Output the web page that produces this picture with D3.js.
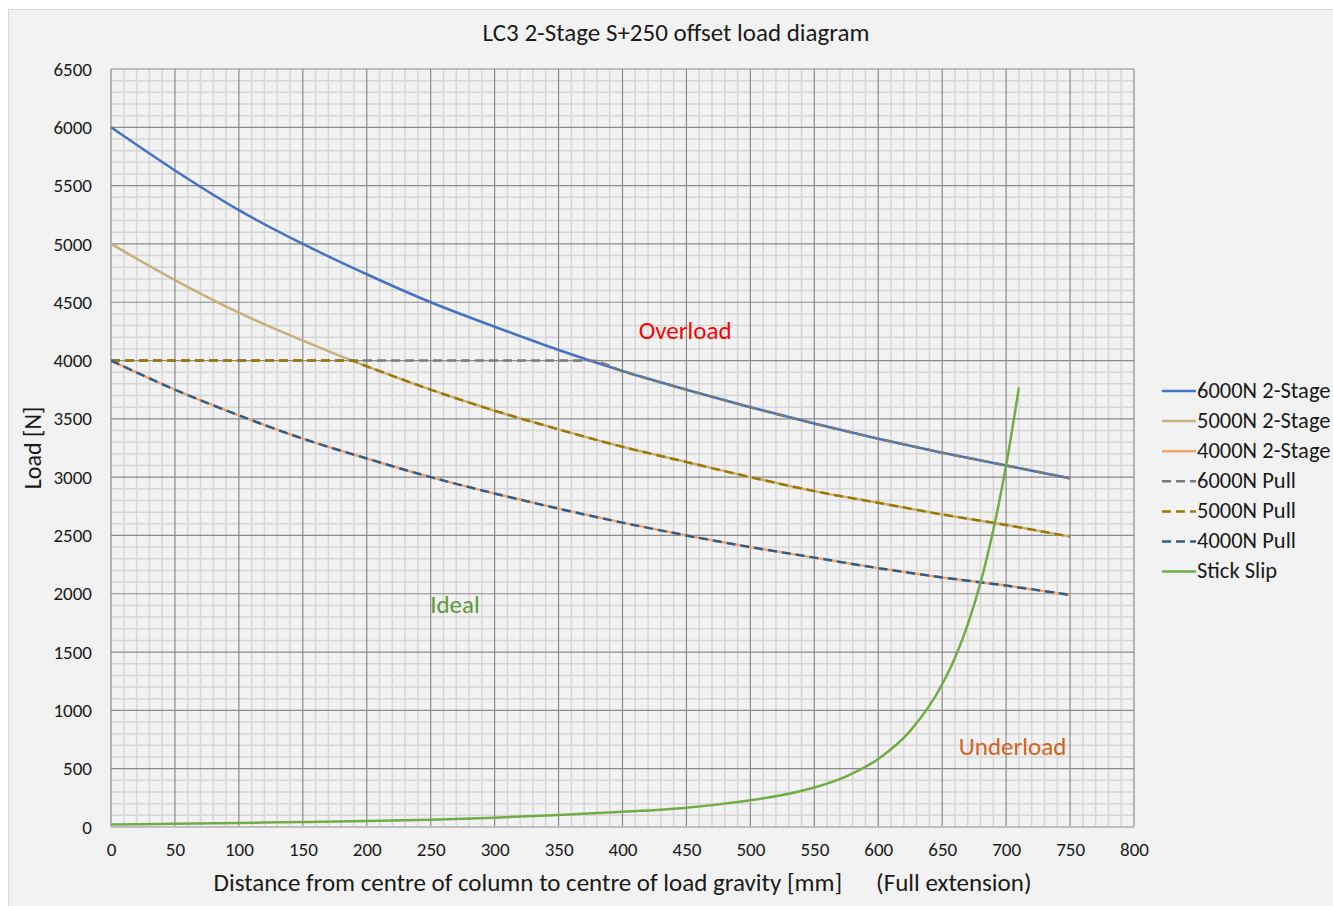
<!DOCTYPE html>
<html>
<head>
<meta charset="utf-8">
<script src="https://cdn.jsdelivr.net/npm/d3@7"></script>
<style>
  html, body { margin: 0; padding: 0; background: #ffffff; }
  svg { display: block; font-family: Carlito, Calibri, Lato, "Open Sans", sans-serif; }
</style>
</head>
<body>
<svg id="chart" width="1333" height="906"></svg>
<script>
// Distances along the column [mm] at which the rated curves are tabulated
const distances = [0, 50, 100, 150, 200, 250, 300, 350, 400, 450, 500, 550, 600, 650, 700, 750];

// Rated load of each 2-stage column [N]
const load6000 = [6000, 5630, 5290, 5000, 4740, 4500, 4290, 4090, 3910, 3750, 3600, 3460, 3330, 3210, 3100, 2990];
const load5000 = [5000, 4690, 4410, 4170, 3950, 3750, 3570, 3410, 3260, 3130, 3000, 2880, 2780, 2680, 2590, 2490];
const load4000 = [4000, 3750, 3530, 3330, 3160, 3000, 2860, 2730, 2610, 2500, 2400, 2310, 2220, 2140, 2070, 1990];

// Pull limits: capped at 4000 N, then following the column rating
const pull6000X = [0, 375, 400, 450, 500, 550, 600, 650, 700, 750];
const pull6000 = [4000, 4000, 3910, 3750, 3600, 3460, 3330, 3210, 3100, 2990];
const pull5000X = [0, 187.5, 200, 250, 300, 350, 400, 450, 500, 550, 600, 650, 700, 750];
const pull5000 = [4000, 4000, 3950, 3750, 3570, 3410, 3260, 3130, 3000, 2880, 2780, 2680, 2590, 2490];
const pull4000X = distances;
const pull4000 = load4000;

// Stick slip boundary
const stickX = [0, 50, 100, 150, 200, 250, 300, 350, 400, 450, 475, 500, 525, 550, 575, 600, 625, 650, 660, 670, 680, 690, 700, 710];
const stickY = [22, 28, 35, 43, 51, 63, 80, 103, 130, 166, 194, 229, 274, 339, 435, 584, 824, 1224, 1452, 1738, 2095, 2549, 3101, 3770];

const seriesNames = ["6000N 2-Stage", "5000N 2-Stage", "4000N 2-Stage", "6000N Pull", "5000N Pull", "4000N Pull", "Stick Slip"];
const seriesColors = ["#4472C4", "#C8B07C", "#F4A46C", "#7A7A7A", "#9C7800", "#2E5E8E", "#70AD47"];
const seriesDashed = [false, false, false, true, true, true, false];

const xTicks = d3.range(0, 801, 50);
const yTicks = d3.range(0, 6501, 500);

const titleText = "LC3 2-Stage S+250 offset load diagram";
const xTitle = "Distance from centre of column to centre of load gravity [mm]\u00a0\u00a0\u00a0\u00a0\u00a0\u00a0(Full extension)";
const yTitle = "Load [N]";

const svg = d3.select("#chart");
const plot = { left: 111, right: 1134, top: 69, bottom: 827 };

const x = d3.scaleLinear().domain([0, 800]).range([plot.left, plot.right]);
const y = d3.scaleLinear().domain([0, 6500]).range([plot.bottom, plot.top]);

// Chart background
svg.append("rect")
  .attr("x", 8.5).attr("y", 9.5).attr("width", 1340).attr("height", 910)
  .attr("fill", "#f2f2f2").attr("stroke", "#d9d9d9").attr("stroke-width", 1);

// Minor grid
const grid = svg.append("g");
grid.selectAll("line.mx").data(d3.range(0, 801, 10).filter(v => v % 50 !== 0)).join("line")
  .attr("x1", d => x(d)).attr("x2", d => x(d))
  .attr("y1", plot.top).attr("y2", plot.bottom)
  .attr("stroke", "#d6d6d6").attr("stroke-width", 1.5);
grid.selectAll("line.my").data(d3.range(0, 6501, 100).filter(v => v % 500 !== 0)).join("line")
  .attr("y1", d => y(d)).attr("y2", d => y(d))
  .attr("x1", plot.left).attr("x2", plot.right)
  .attr("stroke", "#d6d6d6").attr("stroke-width", 1.5);

// Major grid
grid.selectAll("line.Mx").data(xTicks).join("line")
  .attr("x1", d => x(d)).attr("x2", d => x(d))
  .attr("y1", plot.top).attr("y2", plot.bottom)
  .attr("stroke", "#8a8a8a").attr("stroke-width", 1.2);
grid.selectAll("line.My").data(yTicks.filter(v => v > 0)).join("line")
  .attr("y1", d => y(d)).attr("y2", d => y(d))
  .attr("x1", plot.left).attr("x2", plot.right)
  .attr("stroke", "#8a8a8a").attr("stroke-width", 1.2);
// Horizontal axis line
svg.append("line")
  .attr("x1", plot.left).attr("x2", plot.right)
  .attr("y1", y(0)).attr("y2", y(0))
  .attr("stroke", "#bfbfbf").attr("stroke-width", 2);

// Axes (labels only)
const xAxis = svg.append("g")
  .attr("transform", `translate(0,${plot.bottom})`)
  .call(d3.axisBottom(x).tickValues(xTicks).tickSize(0).tickPadding(16).tickFormat(d3.format("d")));
const yAxis = svg.append("g")
  .attr("transform", `translate(${plot.left},0)`)
  .call(d3.axisLeft(y).tickValues(yTicks).tickSize(0).tickPadding(19).tickFormat(d3.format("d")));
[xAxis, yAxis].forEach(a => {
  a.select(".domain").remove();
  a.selectAll("text").attr("font-size", 19).attr("fill", "#1a1a1a")
    .attr("font-family", "Carlito, Calibri, Lato, sans-serif");
});

// Series
const line = d3.line().x(d => x(d[0])).y(d => y(d[1])).curve(d3.curveMonotoneX);
const zip = (xs, ys) => xs.map((v, i) => [v, ys[i]]);
const seriesData = [
  zip(distances, load6000),
  zip(distances, load5000),
  zip(distances, load4000),
  zip(pull6000X, pull6000),
  zip(pull5000X, pull5000),
  zip(pull4000X, pull4000),
  zip(stickX, stickY)
];
svg.append("g").selectAll("path").data(seriesData).join("path")
  .attr("d", line)
  .attr("fill", "none")
  .attr("stroke", (d, i) => seriesColors[i])
  .attr("stroke-width", 2.5)
  .attr("stroke-dasharray", (d, i) => seriesDashed[i] ? "9,5" : null)
  .attr("stroke-linecap", "butt");

// Region labels
const notes = [
  { text: "Overload", at: [449, 4240], color: "#FF0000" },
  { text: "Ideal", at: [269, 1890], color: "#5E9A3C" },
  { text: "Underload", at: [705, 666], color: "#D4621E" }
];
svg.append("g").selectAll("text").data(notes).join("text")
  .attr("x", d => x(d.at[0]))
  .attr("y", d => y(d.at[1]))
  .attr("text-anchor", "middle")
  .attr("dominant-baseline", "middle")
  .attr("font-size", 25)
  .attr("fill", d => d.color)
  .text(d => d.text);

// Titles
svg.append("text")
  .attr("x", 676).attr("y", 35)
  .attr("text-anchor", "middle").attr("dominant-baseline", "middle")
  .attr("font-size", 25).attr("fill", "#1a1a1a")
  .text(titleText);
svg.append("text")
  .attr("x", (plot.left + plot.right) / 2).attr("y", 885)
  .attr("text-anchor", "middle").attr("dominant-baseline", "middle")
  .attr("font-size", 25).attr("fill", "#1a1a1a")
  .text(xTitle);
svg.append("text")
  .attr("transform", `translate(35,${(plot.top + plot.bottom) / 2}) rotate(-90)`)
  .attr("text-anchor", "middle").attr("dominant-baseline", "middle")
  .attr("font-size", 24).attr("fill", "#1a1a1a")
  .text(yTitle);

// Legend
const legend = svg.append("g").attr("transform", "translate(1162,391)");
const entries = legend.selectAll("g").data(seriesNames).join("g")
  .attr("transform", (d, i) => `translate(0,${i * 30.1})`);
entries.append("line")
  .attr("x1", 0).attr("x2", 34).attr("y1", 0).attr("y2", 0)
  .attr("stroke", (d, i) => seriesColors[i])
  .attr("stroke-width", 2.5)
  .attr("stroke-dasharray", (d, i) => seriesDashed[i] ? "9,5" : null);
entries.append("text")
  .attr("x", 35).attr("y", 1.5)
  .attr("dominant-baseline", "middle")
  .attr("font-size", 22.5).attr("fill", "#1a1a1a")
  .text(d => d);
</script>
</body>
</html>
